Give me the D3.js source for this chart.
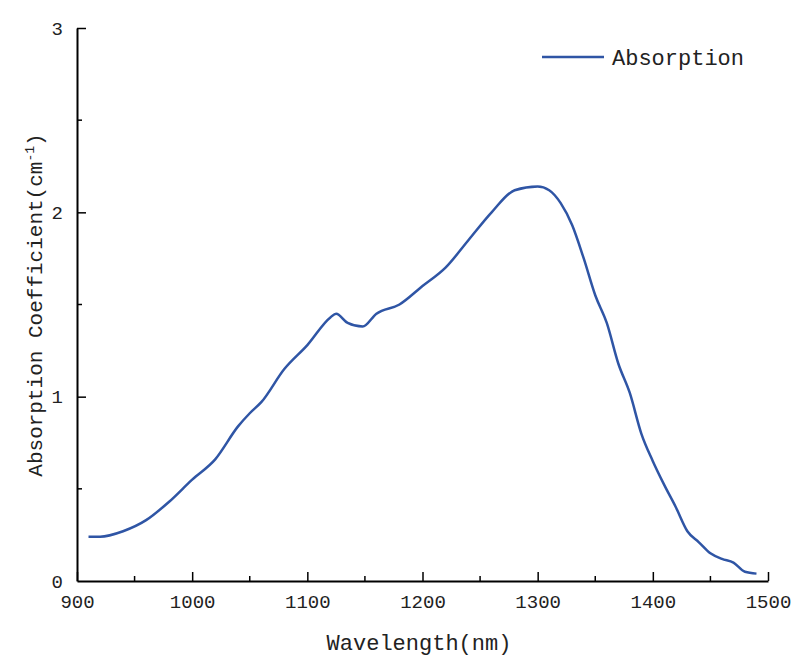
<!DOCTYPE html>
<html><head><meta charset="utf-8">
<script src="https://cdn.jsdelivr.net/npm/d3@7"></script>
<style>body{margin:0;background:#fff}text{font-family:"Liberation Mono",monospace;fill:#222}</style>
</head><body><svg id="c" width="808" height="668"></svg>
<script>
var wavelength = [910,920,940,960,980,1000,1020,1040,1050,1060,1080,1100,1120,1125,1135,1148,1160,1180,1200,1220,1240,1260,1280,1300,1310,1320,1330,1340,1350,1360,1370,1380,1390,1400,1410,1420,1430,1440,1450,1460,1470,1480,1490];
var absorption = [0.24,0.24,0.27,0.33,0.43,0.55,0.66,0.84,0.91,0.97,1.15,1.28,1.43,1.45,1.40,1.38,1.45,1.50,1.60,1.70,1.85,2.00,2.12,2.14,2.12,2.05,1.93,1.75,1.55,1.40,1.18,1.02,0.80,0.65,0.52,0.40,0.27,0.21,0.15,0.12,0.10,0.05,0.04];
var xTicks = [900,1000,1100,1200,1300,1400,1500];
var yTicks = [0,1,2,3];

var svg = d3.select("#c");
var x = d3.scaleLinear().domain([900,1500]).range([77,768]);
var y = d3.scaleLinear().domain([0,3]).range([581,28]);

// minor ticks
svg.append("g").selectAll("line").data(d3.range(950,1500,100)).enter().append("line")
  .attr("x1",d=>x(d)).attr("x2",d=>x(d)).attr("y1",581).attr("y2",576).attr("stroke","#000").attr("stroke-width",1.5);
svg.append("g").selectAll("line").data([0.5,1.5,2.5]).enter().append("line")
  .attr("y1",d=>y(d)).attr("y2",d=>y(d)).attr("x1",77).attr("x2",82).attr("stroke","#000").attr("stroke-width",1.5);

var xa = svg.append("g").attr("transform","translate(0,581)")
  .call(d3.axisBottom(x).tickValues(xTicks).tickFormat(d3.format("d")).tickSize(-9).tickPadding(14).tickSizeOuter(0));
var ya = svg.append("g").attr("transform","translate(77,0)")
  .call(d3.axisLeft(y).tickValues(yTicks).tickFormat(d3.format("d")).tickSize(-9).tickPadding(14).tickSizeOuter(0));
[xa,ya].forEach(function(a){
  a.select(".domain").attr("stroke","#000").attr("stroke-width",2);
  a.selectAll(".tick line").attr("stroke","#000").attr("stroke-width",1.5);
  a.selectAll("text").style("font-size","19px").style("font-family","Liberation Mono").attr("fill","#222");
});
ya.selectAll(".tick").filter(d=>d===0).select("line").remove();

svg.append("path").datum(d3.zip(wavelength,absorption))
  .attr("fill","none").attr("stroke","#2f55a5").attr("stroke-width",2.5)
  .attr("d",d3.line().x(d=>x(d[0])).y(d=>y(d[1])).curve(d3.curveMonotoneX));

svg.append("text").attr("x",419).attr("y",650).attr("text-anchor","middle").style("font-size","22px").text("Wavelength(nm)");
var yl = svg.append("text").attr("transform","translate(42,305) rotate(-90)").attr("text-anchor","middle").style("font-size","21px");
yl.append("tspan").text("Absorption Coefficient(cm");
yl.append("tspan").attr("dy",-8).style("font-size","13px").text("-1");
yl.append("tspan").attr("dy",8).text(")");

svg.append("line").attr("x1",542).attr("x2",604).attr("y1",57).attr("y2",57).attr("stroke","#2f55a5").attr("stroke-width",2.5);
svg.append("text").attr("x",612).attr("y",65).style("font-size","22px").text("Absorption");
</script></body></html>
